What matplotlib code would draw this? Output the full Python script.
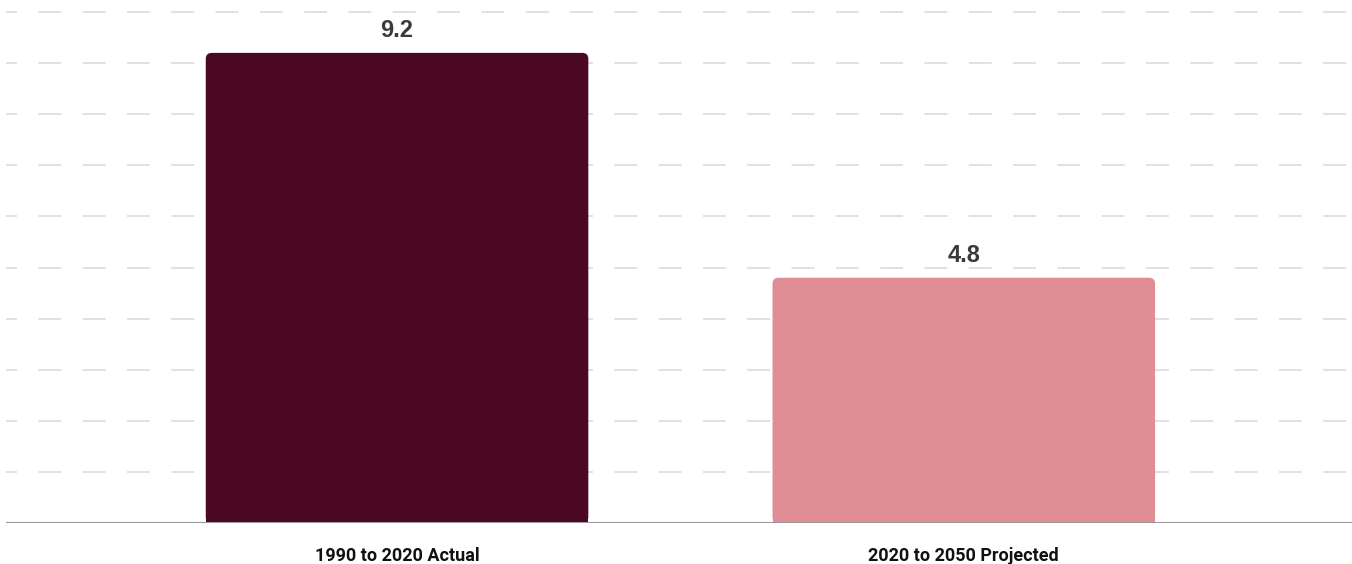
import matplotlib.pyplot as plt
from matplotlib.patches import FancyBboxPatch, Rectangle

plt.rcParams["lines.scale_dashes"] = False

# Average annual growth, actual vs projected
periods = ["1990 to 2020 Actual", "2020 to 2050 Projected"]
values = [9.2, 4.8]
colors = ["#4b0822", "#e08d95"]

fig = plt.figure(figsize=(13.52, 5.64), dpi=100)
ax = fig.add_axes([6 / 1352, 41 / 564, 1346 / 1352, 523 / 564])

xs = list(range(len(periods)))
bar_w = 0.675
bars = ax.bar(xs, values, width=bar_w, color="none", zorder=2)

ax.set_xlim(-0.69, 1.685)
ax.set_ylim(0, 523 / 51.1)

# px -> data conversion for rounded top corners
px_x = 1.0 / 567
px_y = 1.0 / 51.1
asp = px_y / px_x
radius = 6 * px_x
for b, c in zip(bars, colors):
    x0, w, h = b.get_x(), b.get_width(), b.get_height()
    ax.add_patch(FancyBboxPatch((x0 + radius, radius * asp),
                                w - 2 * radius, h - 2 * radius * asp,
                                boxstyle=f"round,pad={radius},rounding_size={radius}",
                                mutation_aspect=asp,
                                facecolor=c, edgecolor="none", zorder=3))
    ax.add_patch(Rectangle((x0, 0), w, h * 0.5, facecolor=c, edgecolor="none", zorder=3))
    ax.text(x0 + w / 2, h + 11 * px_y, f"{h:.1f}", ha="center", va="bottom",
            fontsize=17, fontweight="bold", color="#3a3a3a",
            family=["Liberation Sans", "DejaVu Sans"])

# dashed horizontal grid
for yv in range(1, 11):
    ax.axhline(yv, color="#dedede", lw=1.3, linestyle=(8.6, (16.5, 15.4)), zorder=1)
ax.axhline(0, color="#999999", lw=1.5, zorder=4)

ax.set_xticks(xs)
ax.set_xticklabels(periods, fontsize=13, fontweight="bold", color="#111111",
                   family=["Liberation Sans Narrow", "Roboto", "DejaVu Sans"])
ax.tick_params(axis="x", length=0, pad=17)
ax.set_yticks([])
for s in ax.spines.values():
    s.set_visible(False)

fig.savefig("out.png", dpi=100)
